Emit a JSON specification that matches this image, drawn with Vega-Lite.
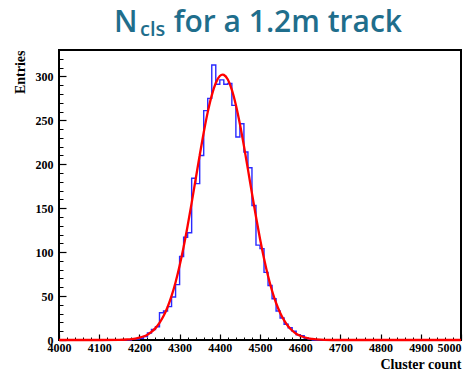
{
  "$schema": "https://vega.github.io/schema/vega-lite/v6.json",
  "width": 402,
  "height": 290,
  "autosize": "none",
  "padding": {"left": 59, "top": 50, "right": 14, "bottom": 36},
  "background": "white",
  "config": {"view": {"stroke": "black", "strokeWidth": 2}},
  "title": {
    "text": "N\u00a0\u00a0\u00a0\u2009 for a 1.2m track",
    "subtitle": "\u200b\u00a0\u00a0\u00a0\u00a0\u00a0cls",
    "anchor": "start",
    "frame": "group",
    "dx": 55,
    "offset": 10,
    "font": "Open Sans",
    "fontSize": 30,
    "fontWeight": 600,
    "color": "#1f6e8c",
    "subtitleFont": "Open Sans",
    "subtitleFontSize": 20,
    "subtitleFontWeight": 600,
    "subtitleColor": "#1f6e8c",
    "subtitlePadding": -18
  },
  "datasets": {
    "hist": [
      {"cluster": 4000, "entries": 0}, {"cluster": 4010, "entries": 0}, {"cluster": 4020, "entries": 0}, {"cluster": 4030, "entries": 0}, {"cluster": 4040, "entries": 0},
      {"cluster": 4050, "entries": 0}, {"cluster": 4060, "entries": 0}, {"cluster": 4070, "entries": 0}, {"cluster": 4080, "entries": 0}, {"cluster": 4090, "entries": 0},
      {"cluster": 4100, "entries": 0}, {"cluster": 4110, "entries": 0}, {"cluster": 4120, "entries": 0}, {"cluster": 4130, "entries": 0}, {"cluster": 4140, "entries": 0},
      {"cluster": 4150, "entries": 0}, {"cluster": 4160, "entries": 0}, {"cluster": 4170, "entries": 0}, {"cluster": 4180, "entries": 1}, {"cluster": 4190, "entries": 1},
      {"cluster": 4200, "entries": 2}, {"cluster": 4210, "entries": 4}, {"cluster": 4220, "entries": 8}, {"cluster": 4230, "entries": 12}, {"cluster": 4240, "entries": 15},
      {"cluster": 4250, "entries": 31}, {"cluster": 4260, "entries": 33}, {"cluster": 4270, "entries": 38}, {"cluster": 4280, "entries": 49}, {"cluster": 4290, "entries": 63},
      {"cluster": 4300, "entries": 95}, {"cluster": 4310, "entries": 117}, {"cluster": 4320, "entries": 122}, {"cluster": 4330, "entries": 184}, {"cluster": 4340, "entries": 178},
      {"cluster": 4350, "entries": 210}, {"cluster": 4360, "entries": 261}, {"cluster": 4370, "entries": 275}, {"cluster": 4380, "entries": 313}, {"cluster": 4390, "entries": 291},
      {"cluster": 4400, "entries": 296}, {"cluster": 4410, "entries": 291}, {"cluster": 4420, "entries": 292}, {"cluster": 4430, "entries": 267}, {"cluster": 4440, "entries": 231},
      {"cluster": 4450, "entries": 246}, {"cluster": 4460, "entries": 214}, {"cluster": 4470, "entries": 196}, {"cluster": 4480, "entries": 153}, {"cluster": 4490, "entries": 108},
      {"cluster": 4500, "entries": 104}, {"cluster": 4510, "entries": 77}, {"cluster": 4520, "entries": 62}, {"cluster": 4530, "entries": 47}, {"cluster": 4540, "entries": 33},
      {"cluster": 4550, "entries": 25}, {"cluster": 4560, "entries": 18}, {"cluster": 4570, "entries": 14}, {"cluster": 4580, "entries": 10}, {"cluster": 4590, "entries": 6},
      {"cluster": 4600, "entries": 5}, {"cluster": 4610, "entries": 2}, {"cluster": 4620, "entries": 1}, {"cluster": 4630, "entries": 0}, {"cluster": 4640, "entries": 0},
      {"cluster": 4650, "entries": 0}, {"cluster": 4660, "entries": 0}, {"cluster": 4670, "entries": 0}, {"cluster": 4680, "entries": 0}, {"cluster": 4690, "entries": 0},
      {"cluster": 4700, "entries": 0}, {"cluster": 4710, "entries": 0}, {"cluster": 4720, "entries": 0}, {"cluster": 4730, "entries": 0}, {"cluster": 4740, "entries": 0},
      {"cluster": 4750, "entries": 0}, {"cluster": 4760, "entries": 0}, {"cluster": 4770, "entries": 0}, {"cluster": 4780, "entries": 0}, {"cluster": 4790, "entries": 0},
      {"cluster": 4800, "entries": 0}, {"cluster": 4810, "entries": 0}, {"cluster": 4820, "entries": 0}, {"cluster": 4830, "entries": 0}, {"cluster": 4840, "entries": 0},
      {"cluster": 4850, "entries": 0}, {"cluster": 4860, "entries": 0}, {"cluster": 4870, "entries": 0}, {"cluster": 4880, "entries": 0}, {"cluster": 4890, "entries": 0},
      {"cluster": 4900, "entries": 0}, {"cluster": 4910, "entries": 0}, {"cluster": 4920, "entries": 0}, {"cluster": 4930, "entries": 0}, {"cluster": 4940, "entries": 0},
      {"cluster": 4950, "entries": 0}, {"cluster": 4960, "entries": 0}, {"cluster": 4970, "entries": 0}, {"cluster": 4980, "entries": 0}, {"cluster": 4990, "entries": 0},
      {"cluster": 5000, "entries": 0}
    ],
    "fit": [
      {"cluster": 4000, "entries": 0}, {"cluster": 4100, "entries": 0}, {"cluster": 4150, "entries": 0.1}, {"cluster": 4170, "entries": 0.6},
      {"cluster": 4180, "entries": 1.0}, {"cluster": 4190, "entries": 1.6}, {"cluster": 4200, "entries": 2.6}, {"cluster": 4210, "entries": 4.0},
      {"cluster": 4220, "entries": 6.1}, {"cluster": 4230, "entries": 9.2}, {"cluster": 4240, "entries": 13.5}, {"cluster": 4250, "entries": 19.4},
      {"cluster": 4260, "entries": 27.2}, {"cluster": 4270, "entries": 37.3}, {"cluster": 4280, "entries": 50.1}, {"cluster": 4290, "entries": 65.7},
      {"cluster": 4300, "entries": 84.4}, {"cluster": 4310, "entries": 105.9}, {"cluster": 4320, "entries": 130}, {"cluster": 4330, "entries": 156},
      {"cluster": 4340, "entries": 183.2}, {"cluster": 4350, "entries": 210.3}, {"cluster": 4360, "entries": 236.1}, {"cluster": 4370, "entries": 259.3},
      {"cluster": 4380, "entries": 278.4}, {"cluster": 4390, "entries": 292.4}, {"cluster": 4400, "entries": 300.4}, {"cluster": 4407, "entries": 302},
      {"cluster": 4410, "entries": 301.7}, {"cluster": 4420, "entries": 296.4}, {"cluster": 4430, "entries": 284.7}, {"cluster": 4440, "entries": 267.5},
      {"cluster": 4450, "entries": 245.8}, {"cluster": 4460, "entries": 220.9}, {"cluster": 4470, "entries": 194.1}, {"cluster": 4480, "entries": 166.8},
      {"cluster": 4490, "entries": 140.2}, {"cluster": 4500, "entries": 115.3}, {"cluster": 4510, "entries": 92.7}, {"cluster": 4520, "entries": 72.8},
      {"cluster": 4530, "entries": 56.0}, {"cluster": 4540, "entries": 42.1}, {"cluster": 4550, "entries": 31.0}, {"cluster": 4560, "entries": 22.3},
      {"cluster": 4570, "entries": 15.7}, {"cluster": 4580, "entries": 10.8}, {"cluster": 4590, "entries": 7.2}, {"cluster": 4600, "entries": 4.8},
      {"cluster": 4610, "entries": 3.1}, {"cluster": 4620, "entries": 1.9}, {"cluster": 4630, "entries": 1.2}, {"cluster": 4640, "entries": 0.7},
      {"cluster": 4660, "entries": 0.2}, {"cluster": 4700, "entries": 0}, {"cluster": 5000, "entries": 0}
    ]
  },
  "layer": [
    {
      "data": {"name": "fit"},
      "mark": {"type": "point", "opacity": 0},
      "encoding": {
        "x": {
          "field": "cluster", "type": "quantitative",
          "scale": {"domain": [4000, 5000], "nice": false, "zero": false},
          "axis": {
            "orient": "bottom",
            "values": [4000, 4020, 4040, 4060, 4080, 4100, 4120, 4140, 4160, 4180, 4200, 4220, 4240, 4260, 4280, 4300, 4320, 4340, 4360, 4380, 4400, 4420, 4440, 4460, 4480, 4500, 4520, 4540, 4560, 4580, 4600, 4620, 4640, 4660, 4680, 4700, 4720, 4740, 4760, 4780, 4800, 4820, 4840, 4860, 4880, 4900, 4920, 4940, 4960, 4980, 5000],
            "tickSize": -3, "tickColor": "black", "tickWidth": 1,
            "labels": false, "domain": false, "grid": false, "title": null
          }
        },
        "y": {
          "field": "entries", "type": "quantitative",
          "scale": {"domain": [0, 330], "nice": false},
          "axis": {
            "orient": "left",
            "values": [0, 10, 20, 30, 40, 50, 60, 70, 80, 90, 100, 110, 120, 130, 140, 150, 160, 170, 180, 190, 200, 210, 220, 230, 240, 250, 260, 270, 280, 290, 300, 310, 320],
            "tickSize": -4, "tickColor": "black", "tickWidth": 1,
            "labels": false, "domain": false, "grid": false, "title": null
          }
        }
      }
    },
    {
      "data": {"name": "hist"},
      "mark": {"type": "line", "interpolate": "step-after", "color": "#2a2aff", "strokeWidth": 1.4},
      "encoding": {
        "x": {
          "field": "cluster", "type": "quantitative",
          "scale": {"domain": [4000, 5000], "nice": false, "zero": false},
          "axis": {
            "orient": "bottom",
            "values": [4000, 4100, 4200, 4300, 4400, 4500, 4600, 4700, 4800, 4900, 5000],
            "format": "d",
            "labelOverlap": false,
            "tickSize": -6, "tickColor": "black", "tickWidth": 1.2,
            "domain": false, "grid": false,
            "labelFont": "Liberation Serif", "labelFontWeight": "bold", "labelFontSize": 12, "labelColor": "black",
            "labelPadding": 8,
            "labelAlign": {"condition": {"test": "datum.value == 5000", "value": "right"}, "value": "center"},
            "title": "Cluster count",
            "titleFont": "Liberation Serif", "titleFontWeight": "bold", "titleFontSize": 14, "titleColor": "black",
            "titleAnchor": "end", "titleAlign": "right", "titlePadding": 4
          }
        },
        "y": {
          "field": "entries", "type": "quantitative",
          "scale": {"domain": [0, 330], "nice": false},
          "axis": {
            "orient": "left",
            "values": [0, 50, 100, 150, 200, 250, 300],
            "format": "d",
            "labelOverlap": false,
            "tickSize": -7, "tickColor": "black", "tickWidth": 1.2,
            "domain": false, "grid": false,
            "labelFont": "Liberation Serif", "labelFontWeight": "bold", "labelFontSize": 12, "labelColor": "black",
            "labelPadding": 13,
            "title": "Entries",
            "titleFont": "Liberation Serif", "titleFontWeight": "bold", "titleFontSize": 14, "titleColor": "black",
            "titleAnchor": "end", "titlePadding": 8
          }
        }
      }
    },
    {
      "data": {"name": "fit"},
      "mark": {"type": "line", "interpolate": "monotone", "color": "#ff0000", "strokeWidth": 2.3},
      "encoding": {
        "x": {"field": "cluster", "type": "quantitative", "scale": {"domain": [4000, 5000], "nice": false, "zero": false}, "axis": null},
        "y": {"field": "entries", "type": "quantitative", "scale": {"domain": [0, 330], "nice": false}, "axis": null}
      }
    }
  ],
  "resolve": {"axis": {"x": "independent", "y": "independent"}}
}
